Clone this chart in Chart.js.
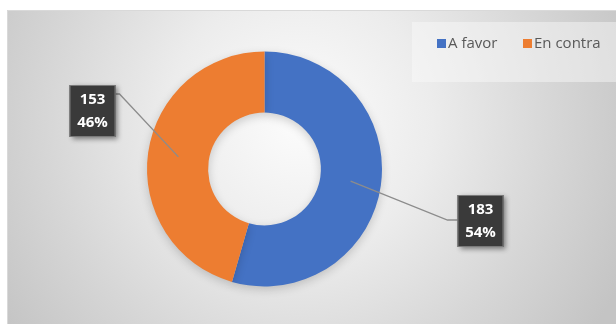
<!DOCTYPE html>
<html>
<head>
<meta charset="utf-8">
<script src="https://cdn.jsdelivr.net/npm/chart.js@4.4.1/dist/chart.umd.min.js"></script>
<style>
html,body{margin:0;padding:0;background:#ffffff;}
#wrap{position:relative;width:616px;height:324px;}
canvas{display:block;}
</style>
</head>
<body>
<div id="wrap"><canvas id="c" width="616" height="324"></canvas></div>
<script>
const categories = ["A favor", "En contra"];
const values = [183, 153];
const percentLabels = ["54%", "46%"];
const colors = ["#4472C4", "#ED7D31"];

const bgPlugin = {
  id: 'bg',
  beforeDraw(chart) {
    const ctx = chart.ctx;
    ctx.save();
    ctx.fillStyle = '#ffffff';
    ctx.fillRect(0, 0, chart.width, chart.height);
    const x0 = 7, y0 = 10, w = chart.width - x0, h = chart.height - y0;
    const g = ctx.createRadialGradient(300, 120, 10, 300, 120, 360);
    g.addColorStop(0, '#fbfbfb');
    g.addColorStop(0.35, '#ececec');
    g.addColorStop(0.7, '#d6d6d6');
    g.addColorStop(1, '#c4c4c4');
    ctx.fillStyle = g;
    ctx.fillRect(x0, y0, w, h);
    ctx.strokeStyle = '#d9d9d9';
    ctx.lineWidth = 1;
    ctx.beginPath();
    ctx.moveTo(x0 + 0.5, chart.height);
    ctx.lineTo(x0 + 0.5, y0 + 0.5);
    ctx.lineTo(chart.width, y0 + 0.5);
    ctx.stroke();
    // legend backdrop
    ctx.fillStyle = 'rgba(250,250,250,0.45)';
    ctx.fillRect(412, 22, chart.width - 412, 60);
    // legend
    ctx.font = '15px "Open Sans", "DejaVu Sans", sans-serif';
    ctx.textBaseline = 'middle';
    ctx.textAlign = 'left';
    const legendX = [437, 523];
    categories.forEach((c, i) => {
      ctx.fillStyle = colors[i];
      ctx.fillRect(legendX[i], 39, 9, 9);
      ctx.fillStyle = '#595959';
      ctx.fillText(c, legendX[i] + 11, 44);
    });
    ctx.restore();
  },
  beforeDatasetsDraw(chart) {
    const ctx = chart.ctx;
    ctx.save();
    ctx.shadowColor = 'rgba(0,0,0,0.18)';
    ctx.shadowBlur = 10;
    ctx.shadowOffsetY = 3;
  },
  afterDatasetsDraw(chart) {
    chart.ctx.restore();
  }
};

const labelPlugin = {
  id: 'calloutLabels',
  afterDraw(chart) {
    const ctx = chart.ctx;
    const meta = chart.getDatasetMeta(0);
    const boxes = [
      { dx: 216, dy: 52 },
      { dx: -172, dy: -58 }
    ];
    meta.data.forEach((arc, i) => {
      const p = arc.getProps(['x', 'y', 'startAngle', 'endAngle', 'innerRadius', 'outerRadius'], true);
      const mid = (p.startAngle + p.endAngle) / 2;
      const r = (p.innerRadius + p.outerRadius) / 2;
      const sx = p.x + Math.cos(mid) * r;
      const sy = p.y + Math.sin(mid) * r;
      const bw = 46, bh = 52;
      const bcx = p.x + boxes[i].dx, bcy = p.y + boxes[i].dy;
      const edgeX = boxes[i].dx > 0 ? bcx - bw / 2 : bcx + bw / 2;
      const elbowX = edgeX + (boxes[i].dx > 0 ? -10 : 4);
      const ly = boxes[i].dx > 0 ? bcy - 1 : bcy - 17;
      ctx.save();
      ctx.strokeStyle = '#8c8c8c';
      ctx.lineWidth = 1.3;
      ctx.beginPath();
      ctx.moveTo(sx, sy);
      ctx.lineTo(elbowX, ly);
      ctx.lineTo(edgeX, ly);
      ctx.stroke();
      ctx.shadowColor = 'rgba(0,0,0,0.45)';
      ctx.shadowBlur = 5;
      ctx.shadowOffsetX = 2;
      ctx.shadowOffsetY = 2;
      ctx.fillStyle = '#3a3a3a';
      ctx.fillRect(bcx - bw / 2, bcy - bh / 2, bw, bh);
      ctx.shadowColor = 'transparent';
      ctx.strokeStyle = '#7a7a7a';
      ctx.lineWidth = 1;
      ctx.strokeRect(bcx - bw / 2 + 0.5, bcy - bh / 2 + 0.5, bw - 1, bh - 1);
      ctx.fillStyle = '#ffffff';
      ctx.font = 'bold 15px "Open Sans", "DejaVu Sans", sans-serif';
      ctx.textAlign = 'center';
      ctx.textBaseline = 'middle';
      ctx.fillText(String(values[i]), bcx, bcy - 11);
      ctx.fillText(percentLabels[i], bcx, bcy + 12);
      ctx.restore();
    });
  }
};

new Chart(document.getElementById('c'), {
  type: 'doughnut',
  data: {
    labels: categories,
    datasets: [{
      data: values,
      backgroundColor: colors,
      borderWidth: 0,
      hoverOffset: 0
    }]
  },
  options: {
    responsive: false,
    animation: false,
    cutout: '48%',
    layout: { padding: { left: 147, right: 234, top: 50, bottom: 36 } },
    plugins: {
      legend: { display: false },
      tooltip: { enabled: false }
    }
  },
  plugins: [bgPlugin, labelPlugin]
});
</script>
</body>
</html>
